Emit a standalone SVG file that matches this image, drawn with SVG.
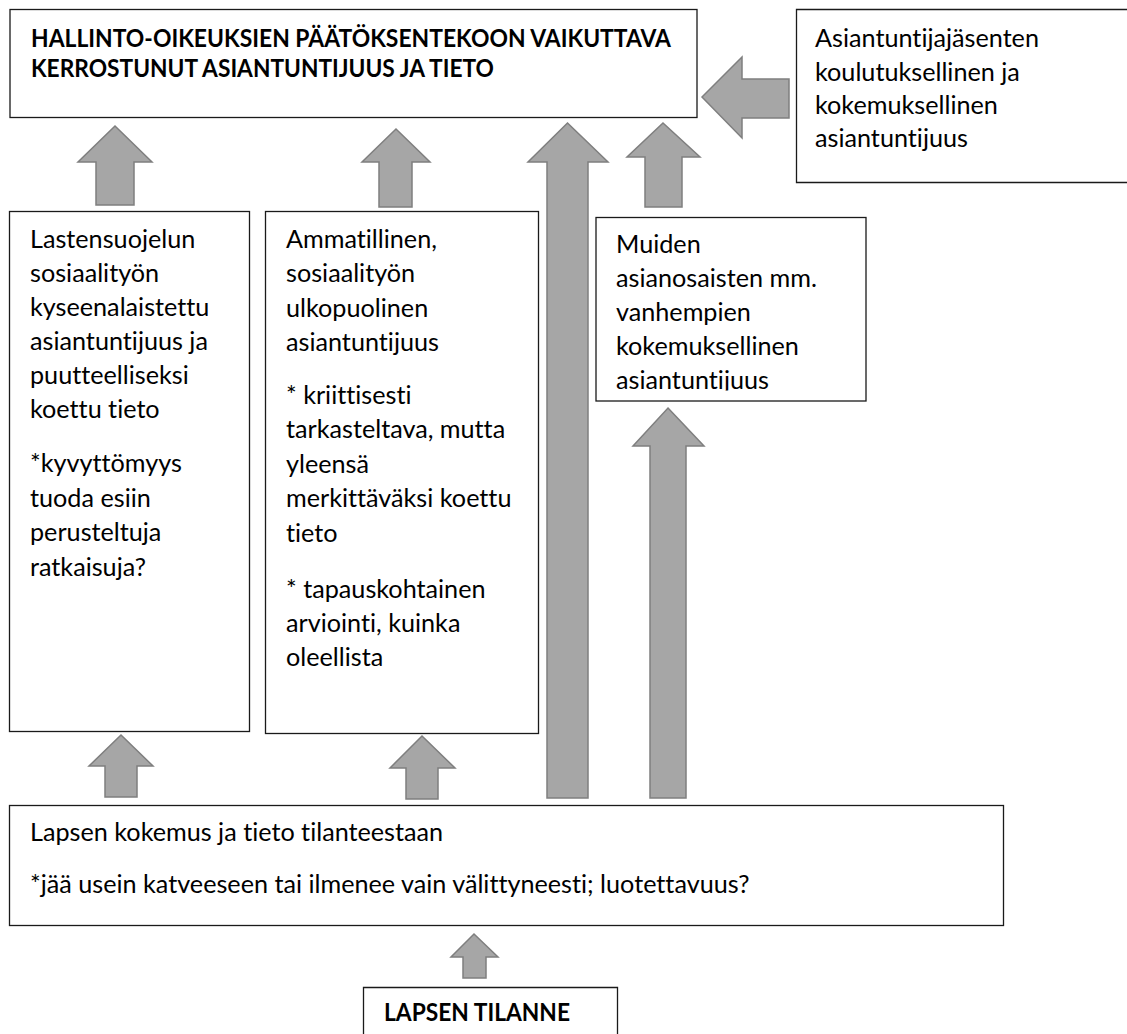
<svg xmlns="http://www.w3.org/2000/svg" width="1127" height="1034" viewBox="0 0 1127 1034">
<defs>
<style>
.box{fill:#fff;stroke:#1a1a1a;stroke-width:1.3}
.edge{fill:none;stroke:#1a1a1a;stroke-width:1.3}
.arr{fill:#a6a6a6;stroke:#7f7f7f;stroke-width:1.5;stroke-linejoin:miter}
.t{font-family:Lato,"Open Sans","Liberation Sans",sans-serif;font-size:25.2px;fill:#000;font-variant-ligatures:none;font-feature-settings:"liga" 0,"clig" 0}
.b{font-family:Lato,"Open Sans","Liberation Sans",sans-serif;font-size:24.5px;font-weight:bold;fill:#000;font-variant-ligatures:none}
</style>
<clipPath id="clipMuiden"><rect x="597" y="218" width="268" height="172.5"/></clipPath>
</defs>
<rect width="1127" height="1034" fill="#fff"/>
<g id="connectors">
<polygon class="arr" points="702,97 742,57 742,79 789,79 789,118 742,118 742,138"/>
<polygon class="arr" points="115,126 152,162 134,162 134,205 96,205 96,162 78,162"/>
<polygon class="arr" points="396,129 430,162 412,162 412,207 379,207 379,162 362,162"/>
<polygon class="arr" points="567.5,123 608,162 588,162 588,798 547,798 547,162 528,162"/>
<polygon class="arr" points="663,123 700,157 682,157 682,207 645,207 645,157 627,157"/>
<polygon class="arr" points="668,408 704,446 686,446 686,798 650,798 650,446 633,446"/>
<polygon class="arr" points="121,735 153,766 137,766 137,797 105,797 105,766 89,766"/>
<polygon class="arr" points="422,736 455,768 438,768 438,799 406,799 406,768 390,768"/>
<polygon class="arr" points="474,934 498,957 486,957 486,978 463,978 463,957 451,957"/>
</g>
<g id="node-top">
<rect class="box" x="10" y="9.5" width="687" height="108"/>
<text class="b" x="31" y="47" textLength="640" lengthAdjust="spacingAndGlyphs">HALLINTO-OIKEUKSIEN PÄÄTÖKSENTEKOON VAIKUTTAVA</text>
<text class="b" x="31" y="77" textLength="463" lengthAdjust="spacingAndGlyphs">KERROSTUNUT ASIANTUNTIJUUS JA TIETO</text>
</g>
<g id="node-asiantuntijajasenet">
<rect x="796.5" y="9.5" width="331" height="173" fill="#fff"/>
<path class="edge" d="M1127,9.5 H796.5 V182.5 H1127"/>
<text class="t" x="815" y="47">Asiantuntijajäsenten</text>
<text class="t" x="815" y="81">koulutuksellinen ja</text>
<text class="t" x="815" y="114">kokemuksellinen</text>
<text class="t" x="815" y="147">asiantuntijuus</text>
</g>
<g id="node-lastensuojelu">
<rect class="box" x="9.5" y="211.5" width="240" height="520"/>
<text class="t" x="30" y="248">Lastensuojelun</text>
<text class="t" x="30" y="282">sosiaalityön</text>
<text class="t" x="30" y="316">kyseenalaistettu</text>
<text class="t" x="30" y="350">asiantuntijuus ja</text>
<text class="t" x="30" y="384">puutteelliseksi</text>
<text class="t" x="30" y="418">koettu tieto</text>
<text class="t" x="30" y="472">*kyvyttömyys</text>
<text class="t" x="30" y="507">tuoda esiin</text>
<text class="t" x="30" y="541">perusteltuja</text>
<text class="t" x="30" y="576">ratkaisuja?</text>
</g>
<g id="node-ammatillinen">
<rect class="box" x="265.5" y="211.5" width="273" height="522"/>
<text class="t" x="286" y="248">Ammatillinen,</text>
<text class="t" x="286" y="282">sosiaalityön</text>
<text class="t" x="286" y="317">ulkopuolinen</text>
<text class="t" x="286" y="351">asiantuntijuus</text>
<text class="t" x="286" y="404">* kriittisesti</text>
<text class="t" x="286" y="438">tarkasteltava, mutta</text>
<text class="t" x="286" y="473">yleensä</text>
<text class="t" x="286" y="507">merkittäväksi koettu</text>
<text class="t" x="286" y="542">tieto</text>
<text class="t" x="286" y="598">* tapauskohtainen</text>
<text class="t" x="286" y="632">arviointi, kuinka</text>
<text class="t" x="286" y="666">oleellista</text>
</g>
<g id="node-muiden">
<rect class="box" x="596" y="217.5" width="270" height="183.5"/>
<g clip-path="url(#clipMuiden)">
<text class="t" x="616" y="253">Muiden</text>
<text class="t" x="616" y="287">asianosaisten mm.</text>
<text class="t" x="616" y="321">vanhempien</text>
<text class="t" x="616" y="355">kokemuksellinen</text>
<text class="t" x="616" y="388.5">asiantuntijuus</text>
</g>
</g>
<g id="node-lapsen-kokemus">
<rect class="box" x="9.5" y="805.5" width="994" height="120"/>
<text class="t" x="30" y="841">Lapsen kokemus ja tieto tilanteestaan</text>
<text class="t" x="30" y="893">*jää usein katveeseen tai ilmenee vain välittyneesti; luotettavuus?</text>
</g>
<g id="node-lapsen-tilanne">
<rect x="363.5" y="987.5" width="254" height="50" fill="#fff"/>
<path class="edge" d="M363.5,1040 V987.5 H617.5 V1040"/>
<text class="b" x="384" y="1021" textLength="186" lengthAdjust="spacingAndGlyphs">LAPSEN TILANNE</text>
</g>
</svg>
